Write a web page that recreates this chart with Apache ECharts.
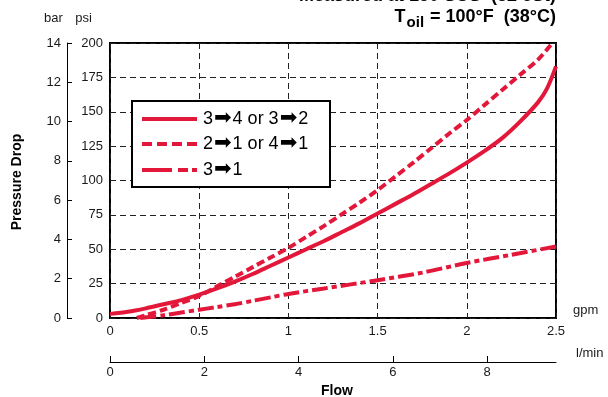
<!DOCTYPE html>
<html>
<head>
<meta charset="utf-8">
<script src="https://cdn.jsdelivr.net/npm/echarts@6.0.0/dist/echarts.min.js"></script>
<style>
html,body{margin:0;padding:0;background:#fff;}
#c{width:608px;height:397px;}
</style>
</head>
<body>
<div id="c"></div>
<script>
// ---- data (gpm, psi) ----
const flowSolid = [0, 0.1, 0.2, 0.3, 0.4, 0.5, 0.6, 0.7, 0.8, 0.9, 1.0, 1.1, 1.2, 1.3, 1.4, 1.5, 1.6, 1.7, 1.8, 1.9, 2.0, 2.1, 2.2, 2.3, 2.4, 2.45, 2.5];
const psiSolid  = [3, 4.5, 7, 10, 13, 17, 21.5, 26.5, 32, 38, 44, 50, 56, 62.5, 69, 76, 83, 90, 97.5, 105, 113, 121.5, 131, 143, 157, 167, 183];

const flowDash = [0.15, 0.2, 0.3, 0.4, 0.5, 0.6, 0.7, 0.8, 0.9, 1.0, 1.1, 1.2, 1.3, 1.4, 1.5, 1.6, 1.7, 1.8, 1.9, 2.0, 2.1, 2.2, 2.3, 2.4, 2.48];
const psiDash  = [0, 2, 6, 11, 16, 23, 30, 37, 44, 51, 59, 67, 75.5, 84, 93, 103, 113, 123.5, 134, 144, 155, 166, 177, 188, 200];

const flowDot = [0.17, 0.3, 0.4, 0.5, 0.6, 0.7, 0.8, 0.9, 1.0, 1.2, 1.5, 1.75, 2.0, 2.25, 2.5];
const psiDot  = [0, 2, 4, 6, 8, 10, 12.5, 15, 17.5, 21.5, 27.5, 33, 40, 46, 52];

const legendParts = [['3', '4 or 3', '2'], ['2', '1 or 4', '1'], ['3', '1']];
const ARROW = '\u27A1';
const seriesNames = legendParts.map(p => p.join(ARROW));
const gpmTicks = [0, 0.5, 1, 1.5, 2, 2.5];
const lminTicks = [0, 2, 4, 6, 8];
const psiTicks = [0, 25, 50, 75, 100, 125, 150, 175, 200];
const barTicks = [0, 2, 4, 6, 8, 10, 12, 14];
const GPM_TO_LMIN = 3.78541;

const zip = (xs, ys) => xs.map((x, i) => [x, ys[i]]);

const RED = '#e3173a';
const FONT = '"Liberation Sans", Arial, Helvetica, sans-serif';
const TXT = '#1a1a1a';

const chart = echarts.init(document.getElementById('c'), null, {renderer: 'canvas'});

const legendRich = {
  n: {fontSize: 18, fontFamily: FONT, color: TXT},
  ar: {fontSize: 21, fontFamily: '"DejaVu Sans", sans-serif', color: '#000', padding: [0, 1, 0, 1]}
};
const legendText = parts => parts.map(p => '{n|' + p + '}').join('{ar|' + ARROW + '}');

const option = {
  backgroundColor: '#fff',
  animation: false,
  textStyle: {fontFamily: FONT},
  grid: {left: 110, right: 52, top: 43, bottom: 79, show: true, borderColor: '#000', borderWidth: 2, backgroundColor: 'transparent'},
  xAxis: [
    {
      type: 'value', position: 'bottom', min: 0, max: 2.5, interval: 0.5,
      axisLine: {show: false}, axisTick: {show: false},
      axisLabel: {color: TXT, fontSize: 13, margin: 7, fontFamily: FONT,
        customValues: gpmTicks, formatter: v => String(v)},
      splitLine: {show: true, lineStyle: {color: '#222', width: 1, type: [6, 4]}}
    },
    {
      type: 'value', position: 'bottom', offset: 44, min: 0, max: 2.5 * GPM_TO_LMIN, interval: 2,
      axisLine: {show: true, onZero: false, lineStyle: {color: '#000', width: 1}},
      axisTick: {show: true, inside: true, length: 6, lineStyle: {color: '#000', width: 1}, customValues: lminTicks},
      axisLabel: {color: TXT, fontSize: 13, margin: 4, fontFamily: FONT, customValues: lminTicks},
      splitLine: {show: false}
    }
  ],
  yAxis: [
    {
      type: 'value', position: 'left', min: 0, max: 200, interval: 25,
      axisLine: {show: false}, axisTick: {show: false},
      axisLabel: {color: TXT, fontSize: 13, margin: 7, fontFamily: FONT, customValues: psiTicks},
      splitLine: {show: true, lineStyle: {color: '#222', width: 1, type: [6, 4]}}
    },
    {
      type: 'value', position: 'left', offset: 43, min: 0, max: 14, interval: 2,
      axisLine: {show: true, onZero: false, lineStyle: {color: '#000', width: 1}},
      axisTick: {show: true, inside: true, length: 5, lineStyle: {color: '#000', width: 1}},
      axisLabel: {color: TXT, fontSize: 13, margin: 6, fontFamily: FONT, customValues: barTicks},
      splitLine: {show: false}
    }
  ],
  series: [
    {
      name: seriesNames[0], type: 'line', xAxisIndex: 0, yAxisIndex: 0,
      data: zip(flowSolid, psiSolid), smooth: 0.3, showSymbol: false, symbol: 'none',
      lineStyle: {color: RED, width: 4}, clip: true, z: 3
    },
    {
      name: seriesNames[1], type: 'line', xAxisIndex: 0, yAxisIndex: 0,
      data: zip(flowDash, psiDash), smooth: 0.3, showSymbol: false, symbol: 'none',
      lineStyle: {color: RED, width: 4, type: [8, 4]}, clip: true, z: 3
    },
    {
      name: seriesNames[2], type: 'line', xAxisIndex: 0, yAxisIndex: 0,
      data: zip(flowDot, psiDot), smooth: 0.3, showSymbol: false, symbol: 'none',
      lineStyle: {color: RED, width: 4, type: [16, 4, 5, 4]}, clip: true, z: 3
    }
  ],
  graphic: [
    // title lines
    {type: 'text', right: 52, top: -13, z: 10,
      style: {text: 'Measured at 150 SUS  (32 cSt)', font: 'bold 18px ' + FONT, fill: '#000'}},
    {type: 'text', right: 52, top: 8, z: 10,
      style: {
        text: '{a|T}{s|oil}{a| = 100°F  (38°C)}',
        fill: '#000',
        rich: {
          a: {fontSize: 18, fontWeight: 'bold', fontFamily: FONT, lineHeight: 20, verticalAlign: 'bottom', padding: [0, 0, 4, 0]},
          s: {fontSize: 15, fontWeight: 'bold', fontFamily: FONT, lineHeight: 18, verticalAlign: 'bottom', padding: [0, 1, 0, 1]}
        }
      }},
    // axis units
    {type: 'text', x: 53.5, y: 18, z: 10, style: {text: 'bar', font: '13px ' + FONT, fill: TXT, align: 'center', verticalAlign: 'middle'}},
    {type: 'text', x: 83.5, y: 18, z: 10, style: {text: 'psi', font: '13px ' + FONT, fill: TXT, align: 'center', verticalAlign: 'middle'}},
    {type: 'text', x: 573, y: 310, z: 10, style: {text: 'gpm', font: '13px ' + FONT, fill: TXT, align: 'left', verticalAlign: 'middle'}},
    {type: 'text', x: 576, y: 353, z: 10, style: {text: 'l/min', font: '13px ' + FONT, fill: TXT, align: 'left', verticalAlign: 'middle'}},
    {type: 'text', x: 337, y: 391, z: 10, style: {text: 'Flow', font: 'bold 14px ' + FONT, fill: '#000', align: 'center', verticalAlign: 'middle'}},
    {type: 'text', x: 17, y: 182, rotation: Math.PI / 2, z: 10, style: {text: 'Pressure Drop', font: 'bold 14px ' + FONT, fill: '#000', align: 'center', verticalAlign: 'middle'}},
    // legend box
    {type: 'rect', z: 20, shape: {x: 132, y: 101, width: 198, height: 86}, style: {fill: '#fff', stroke: '#000', lineWidth: 2}},
    {type: 'line', z: 21, shape: {x1: 142, y1: 119, x2: 197, y2: 119}, style: {stroke: RED, lineWidth: 4}},
    {type: 'line', z: 21, shape: {x1: 142, y1: 144, x2: 197, y2: 144}, style: {stroke: RED, lineWidth: 4, lineDash: [10, 5]}},
    {type: 'line', z: 21, shape: {x1: 142, y1: 170, x2: 197, y2: 170}, style: {stroke: RED, lineWidth: 4, lineDash: [30, 6, 10, 4]}},
    {type: 'text', z: 21, x: 203, y: 119, style: {text: legendText(legendParts[0]), rich: legendRich, verticalAlign: 'middle'}},
    {type: 'text', z: 21, x: 203, y: 144, style: {text: legendText(legendParts[1]), rich: legendRich, verticalAlign: 'middle'}},
    {type: 'text', z: 21, x: 203, y: 170, style: {text: legendText(legendParts[2]), rich: legendRich, verticalAlign: 'middle'}}
  ]
};
chart.setOption(option);
</script>
</body>
</html>
